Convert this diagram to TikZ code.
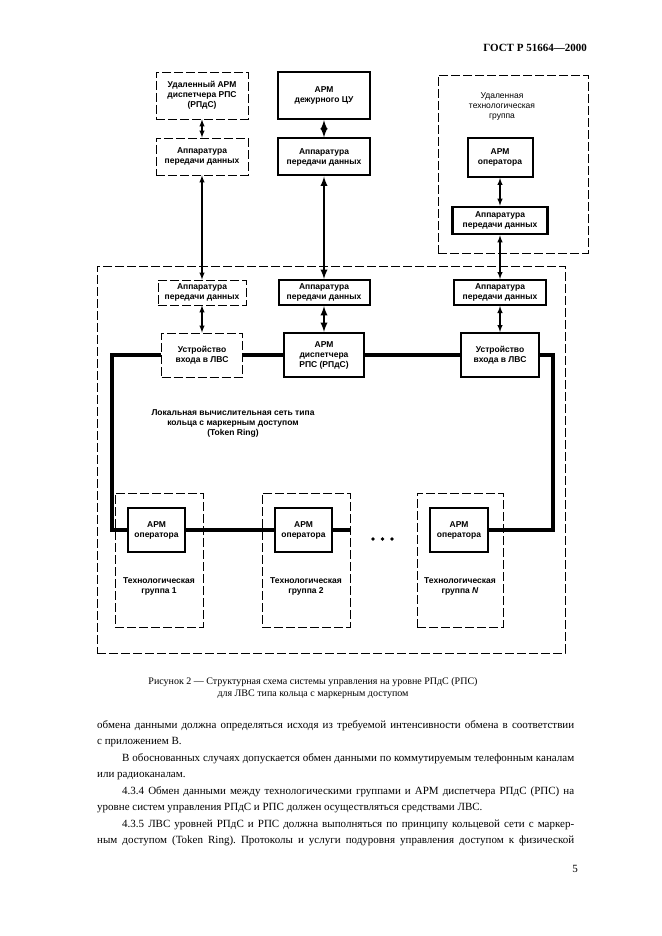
\documentclass[tikz,border=0pt]{standalone}
\usepackage{fontspec}
\setmainfont{Liberation Serif}
\newfontfamily\boxfont{Liberation Sans}
\usepackage{tikz}
\usetikzlibrary{arrows}
\frenchspacing

\begin{document}
\begin{tikzpicture}[x=1pt,y=-1pt,
  dashbox/.style={draw,dash pattern=on 9pt off 3pt,line width=0.9pt,inner sep=0pt,align=center,
    font=\boxfont\bfseries\fontsize{8.5}{10}\selectfont},
  boldbox/.style={dashbox,solid,line width=2pt},
  link/.style={latex-latex,line width=1.4pt},
  ring/.style={line width=4.5pt,line join=miter},
  lbl/.style={align=center,inner sep=0pt,font=\boxfont\bfseries\fontsize{8.5}{10}\selectfont},
  dot/.style={circle,fill=black,inner sep=1.3pt}]
\useasboundingbox (0,0) rectangle (661,936);
\pgfmathsetmacro{\xl}{202}
\pgfmathsetmacro{\xm}{324}
\pgfmathsetmacro{\xr}{500}
% page head
\node[anchor=base east,inner sep=0pt,font=\bfseries\fontsize{11}{13}\selectfont] (head) at (587,52) {ГОСТ Р 51664—2000};
% remote boxes on top
\node[dashbox,minimum width=92,minimum height=47] (remA) at (\xl,95.5) {Удаленный АРМ\\диспетчера РПС\\(РПдС)};
\node[dashbox,minimum width=92,minimum height=37] (aptL) at (\xl,156.5) {Аппаратура\\передачи данных};
\node[boldbox,minimum width=92,minimum height=47] (armCU) at (\xm,95.5) {АРМ\\дежурного ЦУ};
\node[boldbox,minimum width=92,minimum height=37] (aptM) at (\xm,157) {Аппаратура\\передачи данных};
\node[dashbox,minimum width=150,minimum height=178] (remGrp) at (513,164) {};
\node[lbl,font=\boxfont\fontsize{8.5}{10}\selectfont] (remTxt) at (502,106) {Удаленная\\технологическая\\группа};
\node[boldbox,minimum width=65,minimum height=39] (remOp) at (\xr,157.5) {АРМ\\оператора};
\node[boldbox,line width=2.6pt,minimum width=95,minimum height=27] (remApt) at (\xr,220.5) {Аппаратура\\передачи данных};
% local system
\node[dashbox,minimum width=468,minimum height=387] (lvs) at (331,459.5) {};
\node[dashbox,minimum width=88,minimum height=25] (aL) at (\xl,292.5) {Аппаратура\\передачи данных};
\node[boldbox,minimum width=91,minimum height=25] (aM) at (\xm,292.5) {Аппаратура\\передачи данных};
\node[boldbox,minimum width=92,minimum height=25] (aR) at (\xr,292.5) {Аппаратура\\передачи данных};
\node[dashbox,minimum width=81,minimum height=44] (uL) at (\xl,355) {Устройство\\входа в ЛВС};
\node[boldbox,minimum width=80,minimum height=44] (disp) at (\xm,355) {АРМ\\диспетчера\\РПС (РПдС)};
\node[boldbox,minimum width=78,minimum height=44] (uR) at (\xr,355) {Устройство\\входа в ЛВС};
\node[lbl] (lan) at (233,423) {Локальная вычислительная сеть типа\\кольца с маркерным доступом\\(Token Ring)};
% groups
\node[dashbox,minimum width=88,minimum height=134] (g1) at (159,560) {};
\node[dashbox,minimum width=88,minimum height=134] (g2) at (306,560) {};
\node[dashbox,minimum width=86,minimum height=134] (gN) at (460,560) {};
\node[boldbox,minimum width=57,minimum height=44] (op1) at (156.5,530) {АРМ\\оператора};
\node[boldbox,minimum width=57,minimum height=44] (op2) at (303.5,530) {АРМ\\оператора};
\node[boldbox,minimum width=58,minimum height=44] (opN) at (459,530) {АРМ\\оператора};
\node[lbl] (t1) at (159,586) {Технологическая\\группа 1};
\node[lbl] (t2) at (306,586) {Технологическая\\группа 2};
\node[lbl] (tN) at (460,586) {Технологическая\\группа \textit{N}};
\node[dot] (d1) at (373,539) {};
\node[dot] (d2) at (382.5,539) {};
\node[dot] (d3) at (392,539) {};
% links
\draw[link] (remA) -- (aptL);
\draw[link] (aptL) -- (aL);
\draw[link] (aL) -- (uL);
\draw[link,line width=2.2pt] (armCU) -- (aptM);
\draw[link,line width=2.2pt] (aptM) -- (aM);
\draw[link,line width=2.2pt] (aM) -- (disp);
\draw[link] (remOp) -- (remApt);
\draw[link] (remApt) -- (aR);
\draw[link] (aR) -- (uR);
% token ring
\coordinate (cTL) at (112,355);
\coordinate (cTR) at (553,355);
\coordinate (cBL) at (112,530);
\coordinate (cBR) at (553,530);
\coordinate (cGap) at (350,530);
\draw[ring] (uL.west) -- (cTL) -- (cBL) -- (op1.west);
\draw[ring] (uL.east) -- (disp.west);
\draw[ring] (disp.east) -- (uR.west);
\draw[ring] (uR.east) -- (cTR) -- (cBR) -- (opN.east);
\draw[ring] (op1.east) -- (op2.west);
\draw[ring] (op2.east) -- (cGap);
% caption and text
\node[align=center,inner sep=0pt,anchor=base,font=\fontsize{10}{12}\selectfont] (cap) at (313,696)
  {Рисунок 2 — Структурная схема системы управления на уровне РПдС (РПС)\\для ЛВС типа кольца с маркерным доступом};
\node[anchor=base west,inner sep=0pt] (body) at (97,728) {\parbox[t]{477pt}{\fontsize{11}{16.5}\selectfont
обмена данными должна определяться исходя из требуемой интенсивности обмена в соответствии\linebreak
с приложением В.\par
\hspace*{25pt}В обоснованных случаях допускается обмен данными по коммутируемым телефонным каналам\linebreak
или радиоканалам.\par
\hspace*{25pt}4.3.4 Обмен данными между технологическими группами и АРМ диспетчера РПдС (РПС) на\linebreak
уровне систем управления РПдС и РПС должен осуществляться средствами ЛВС.\par
\hspace*{25pt}4.3.5 ЛВС уровней РПдС и РПС должна выполняться по принципу кольцевой сети с маркер-\linebreak
ным доступом (Token Ring). Протоколы и услуги подуровня управления доступом к физической\parfillskip=0pt\par}};
\node[anchor=base east,inner sep=0pt,font=\fontsize{11}{13}\selectfont] (pg) at (578,872) {5};
\end{tikzpicture}
\end{document}
